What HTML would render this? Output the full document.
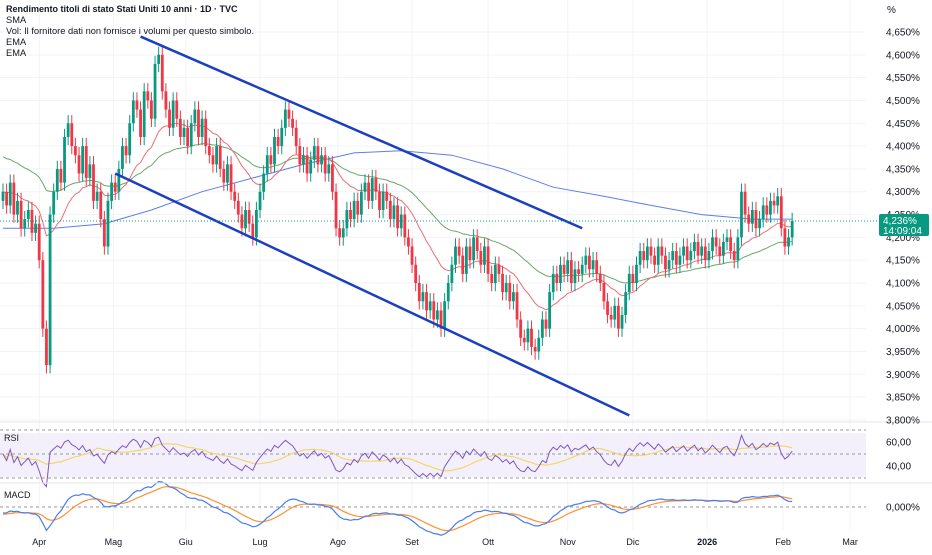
<!DOCTYPE html>
<html><head><meta charset="utf-8">
<style>
html,body{margin:0;padding:0;background:#fff;}
body{width:932px;height:550px;overflow:hidden;font-family:"Liberation Sans",sans-serif;}
svg text{font-family:"Liberation Sans",sans-serif;}
</style></head>
<body>
<svg id="chart" width="932" height="550" xmlns="http://www.w3.org/2000/svg">
<g id="grid"></g>
<rect x="0" y="433" width="866" height="44" fill="#f3f0fb"/>
<g id="marks"></g>
<line x1="0" y1="422" x2="932" y2="422" stroke="#e6e6e6"/>
<line x1="0" y1="483" x2="932" y2="483" stroke="#e6e6e6"/>
<text x="6" y="12" font-size="9" font-weight="bold" fill="#131722">Rendimento titoli di stato Stati Uniti 10 anni · 1D · TVC</text>
<text x="6" y="23" font-size="9.3" fill="#131722">SMA</text>
<text x="6" y="34" font-size="9.3" fill="#131722">Vol: Il fornitore dati non fornisce i volumi per questo simbolo.</text>
<text x="6" y="45" font-size="9.3" fill="#131722">EMA</text>
<text x="6" y="56" font-size="9.3" fill="#131722">EMA</text>
<text x="887" y="13" font-size="10" fill="#131722">%</text>
<text x="4" y="441" font-size="9" fill="#131722">RSI</text>
<text x="4" y="498" font-size="9" fill="#131722">MACD</text>
</svg>
<script>
const priceTicks=[4.65,4.6,4.55,4.5,4.45,4.4,4.35,4.3,4.25,4.2,4.15,4.1,4.05,4.0,3.95,3.9,3.85,3.8];
const monthLabels=["Apr","Mag","Giu","Lug","Ago","Set","Ott","Nov","Dic","2026","Feb","Mar"];
const monthIndex=[10,30.5,50.5,71,92.5,113,134,156,174,194.5,215.5,234];
const closes=[4.30,4.27,4.32,4.25,4.28,4.22,4.24,4.26,4.21,4.23,
4.15,4.00,3.92,4.25,4.30,4.35,4.32,4.42,4.45,4.40,
4.38,4.34,4.40,4.33,4.36,4.28,4.30,4.24,4.18,4.28,
4.32,4.30,4.35,4.40,4.38,4.45,4.50,4.48,4.42,4.52,
4.50,4.46,4.58,4.60,4.52,4.48,4.44,4.50,4.46,4.42,
4.44,4.40,4.45,4.48,4.42,4.46,4.40,4.38,4.36,4.40,
4.35,4.32,4.36,4.30,4.28,4.25,4.22,4.26,4.23,4.20,
4.26,4.30,4.34,4.38,4.36,4.42,4.40,4.44,4.48,4.46,
4.44,4.40,4.36,4.38,4.34,4.37,4.40,4.36,4.38,4.34,
4.36,4.30,4.22,4.20,4.22,4.26,4.24,4.28,4.25,4.30,
4.32,4.28,4.33,4.30,4.26,4.30,4.28,4.24,4.27,4.22,
4.25,4.20,4.18,4.14,4.10,4.06,4.08,4.04,4.06,4.02,
4.04,4.00,4.06,4.10,4.14,4.18,4.16,4.12,4.18,4.15,
4.20,4.17,4.14,4.18,4.12,4.10,4.14,4.12,4.08,4.10,
4.06,4.08,4.02,3.98,3.97,4.00,3.96,3.95,3.98,4.02,
4.00,4.08,4.12,4.10,4.14,4.12,4.15,4.10,4.13,4.12,
4.14,4.16,4.13,4.15,4.12,4.10,4.06,4.03,4.02,4.05,
4.00,4.03,4.08,4.12,4.10,4.14,4.17,4.15,4.18,4.16,
4.14,4.18,4.16,4.13,4.15,4.17,4.14,4.16,4.18,4.15,
4.17,4.19,4.16,4.18,4.15,4.17,4.20,4.18,4.16,4.19,
4.20,4.17,4.15,4.20,4.30,4.25,4.23,4.26,4.22,4.24,
4.27,4.25,4.28,4.27,4.29,4.22,4.18,4.20,4.236];
const firstOpen=4.28;
const smaIdx=[0,14,28,41,55,69,83,97,110,124,138,152,166,179,193,207,218];
const smaVals=[4.22,4.22,4.23,4.26,4.30,4.33,4.36,4.385,4.39,4.38,4.35,4.31,4.29,4.27,4.25,4.24,4.24];
const emaFastSeed=4.30, emaSlowSeed=4.38;
const channelUpper=[[38,4.64],[160,4.22]];
const channelLower=[[31,4.34],[173,3.81]];
const rsiTicks=[60,40];
const NS="http://www.w3.org/2000/svg";
const svg=document.getElementById('chart'), marks=document.getElementById('marks'), grid=document.getElementById('grid');
const X=i=>3+3.62*i;
const Y=v=>32+(4.65-v)/0.05*22.82;
const RY=v=>442+(60-v)*1.2;
const MY=v=>507-v*380;
function el(tag,attrs,parent){const e=document.createElementNS(NS,tag);for(const k in attrs)e.setAttribute(k,attrs[k]);(parent||marks).appendChild(e);return e;}
function fmt(v,d){return v.toFixed(d).replace('.',',');}
priceTicks.forEach(t=>{
 const g=el('line',{x1:0,x2:866,y1:Y(t),y2:Y(t),stroke:'#f2f3f5'},grid);
 
 
 const tx=el('text',{x:886,y:Y(t)+3.5,'font-size':10,fill:'#131722'},svg);
 tx.textContent=fmt(t,3)+'%';
 
 
});
monthLabels.forEach((m,k)=>{
 const x=X(monthIndex[k]);
 const g=el('line',{x1:x,x2:x,y1:0,y2:530,stroke:'#f2f3f5'},grid);
 
 
 const tx=el('text',{x:x,y:545,'font-size':9,fill:'#131722','text-anchor':'middle','font-weight':m==='2026'?'bold':'normal'},svg);
 tx.textContent=m;
 
 
});
function polyline(pts,color,w,name){const p=el('polyline',{points:pts.map(q=>q[0].toFixed(1)+','+q[1].toFixed(1)).join(' '),fill:'none',stroke:color,'stroke-width':w});return p;}
polyline(smaIdx.map((i,k)=>[X(i),Y(smaVals[k])]),'#5b7fe8',1,'sma-line');
function ema(arr,n,seed){const a=2/(n+1);let e=seed;return arr.map(v=>e=e+a*(v-e));}
const eF=ema(closes,20,emaFastSeed), eS=ema(closes,50,emaSlowSeed);
polyline(eS.map((v,i)=>[X(i),Y(v)]),'#6aa86a',1,'ema-slow-line');
polyline(eF.map((v,i)=>[X(i),Y(v)]),'#e8707a',1,'ema-fast-line');
closes.forEach((c,i)=>{
 const o=i===0?firstOpen:closes[i-1];
 const up=c>=o, col=up?'#089981':'#f23645';
 const hi=Math.max(o,c)+0.018, lo=Math.min(o,c)-0.018;
 const g=el('g',{});
 
 
 el('line',{x1:X(i),x2:X(i),y1:Y(hi),y2:Y(lo),stroke:col,'stroke-width':1},g);
 const top=Y(Math.max(o,c)), h=Math.max(1,Y(Math.min(o,c))-top);
 el('rect',{x:X(i)-1.4,y:top,width:2.8,height:h,fill:col},g);
});
[channelUpper,channelLower].forEach((ln,k)=>{
 const l=el('line',{x1:X(ln[0][0]),y1:Y(ln[0][1]),x2:X(ln[1][0]),y2:Y(ln[1][1]),stroke:'#1c3fbf','stroke-width':2.5});
 
 
});
const last=closes[closes.length-1];
const pl=el('line',{x1:0,x2:880,y1:Y(last),y2:Y(last),stroke:'#089981','stroke-dasharray':'1,2'});


const box=el('rect',{x:879,y:Y(last)-7,width:50,height:22,fill:'#089981',rx:2},svg);


const t1=el('text',{x:883,y:Y(last)+3,'font-size':10,fill:'#fff'},svg);t1.textContent=fmt(last,3)+'%';


const t2=el('text',{x:883,y:Y(last)+13,'font-size':10,fill:'#fff'},svg);t2.textContent='14:09:04';


[70,50,30].forEach(v=>{const l=el('line',{x1:0,x2:866,y1:RY(v),y2:RY(v),stroke:'#9598a1','stroke-dasharray':'3,3'});});
rsiTicks.forEach(v=>{const t=el('text',{x:886,y:RY(v)+3.5,'font-size':10,fill:'#131722'},svg);t.textContent=fmt(v,2);});
let ag=0.01,al=0.01;const rsi=closes.map((c,i)=>{const d=i?c-closes[i-1]:0;ag=(ag*13+Math.max(d,0))/14;al=(al*13+Math.max(-d,0))/14;return 100-100/(1+ag/al);});
const rsiMa=rsi.map((v,i)=>{const s=rsi.slice(Math.max(0,i-13),i+1);return s.reduce((a,b)=>a+b,0)/s.length;});
polyline(rsiMa.map((v,i)=>[X(i),RY(v)]),'#f2d76b',1.2,'rsi-ma-line');
polyline(rsi.map((v,i)=>[X(i),RY(v)]),'#7e57c2',1,'rsi-line');
const l0=el('line',{x1:0,x2:866,y1:MY(0),y2:MY(0),stroke:'#9598a1','stroke-dasharray':'3,3'});
const mt=el('text',{x:886,y:MY(0)+3.5,'font-size':10,fill:'#131722'},svg);mt.textContent='0,000%';
const e12=ema(closes,12,4.27),e26=ema(closes,26,4.29);
const macd=e12.map((v,i)=>v-e26[i]);const sig=ema(macd,9,-0.02);
polyline(sig.map((v,i)=>[X(i),MY(v)]),'#ff9030',1.2,'macd-signal-line');
polyline(macd.map((v,i)=>[X(i),MY(v)]),'#4a7cf0',1.2,'macd-line');
</script>
</body></html>
